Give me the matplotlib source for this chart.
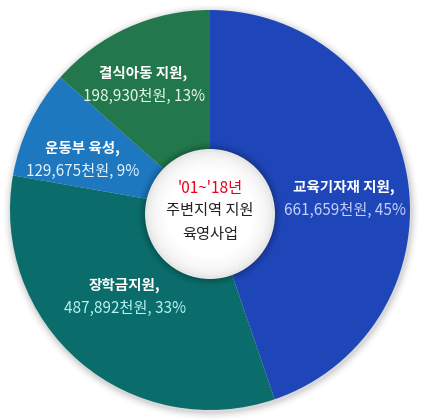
import numpy as np
import matplotlib
matplotlib.use("Agg")
import matplotlib.pyplot as plt
from matplotlib.patches import Circle

plt.rcParams['font.family'] = ['Noto Sans CJK KR', 'DejaVu Sans']

# ================= DATA =================
names = ["교육기자재 지원,", "장학금지원,", "운동부 육성,", "결식아동 지원,"]
amounts = [661659, 487892, 129675, 198930]
pcts = [45, 33, 9, 13]
colors = ["#1f46b8", "#0b6d6b", "#1d78c0", "#22784c"]
value_colors = ["#c3d0f7", "#b5f2ef", "#e4f2fb", "#e6f5ea"]
# label centres in pixels (x, y of name line)
label_px = [(344, 187), (124, 285), (82, 148), (143, 73)]

center_lines = ["'01~'18년", "주변지역 지원", "육영사업"]

# ================= FIGURE =================
W, H = 429, 420
fig = plt.figure(figsize=(W / 100, H / 100), dpi=100)
ax = fig.add_axes([0, 0, 1, 1])

def px(x, y):
    return ((x - 210) / 200, (210 - y) / 200)

# soft shadow behind pie
for i, a in enumerate(np.linspace(0.05, 0.01, 5)):
    ax.add_patch(Circle((0.005, -0.01), 1.0 + 0.008 * (i + 1), color="black",
                        alpha=a, lw=0, zorder=0))

ax.pie(amounts, colors=colors, startangle=90, counterclock=False, radius=1.0,
       wedgeprops=dict(linewidth=0, zorder=1))

# labels
for name, amt, p, vc, (x, y) in zip(names, amounts, pcts, value_colors, label_px):
    tx, ty = px(x, y)
    ax.text(tx, ty, name, color="white", fontsize=10.5, fontweight="bold",
            ha="center", va="center", zorder=5)
    tx, ty = px(x + 1, y + 23)
    ax.text(tx, ty, f"{amt:,}천원, {p}%", color=vc, fontsize=11,
            ha="center", va="center", zorder=5)

# center white circle with soft edge
cc = px(210, 214)
for i, a in enumerate(np.linspace(0.08, 0.015, 6)):
    ax.add_patch(Circle(cc, 0.325 + 0.008 * i, color="black", alpha=a, lw=0, zorder=3))
for r, c in zip(np.linspace(0.325, 0.22, 8),
                ["#e6e6e6", "#eeeeee", "#f3f3f3", "#f7f7f7",
                 "#f9f9f9", "#fbfbfb", "#fdfdfd", "#ffffff"]):
    ax.add_patch(Circle(cc, r, color=c, lw=0, zorder=4))

for txt, y, c in zip(center_lines, [188, 211, 234], ["#e8001c", "#222222", "#222222"]):
    tx, ty = px(210, y)
    ax.text(tx, ty, txt, color=c, fontsize=11, ha="center", va="center", zorder=6)

ax.set_xlim(-210 / 200, (W - 210) / 200)
ax.set_ylim(-(H - 210) / 200, 210 / 200)
ax.set_aspect("equal")
ax.axis("off")

fig.savefig("out.png", dpi=100, facecolor="white")
